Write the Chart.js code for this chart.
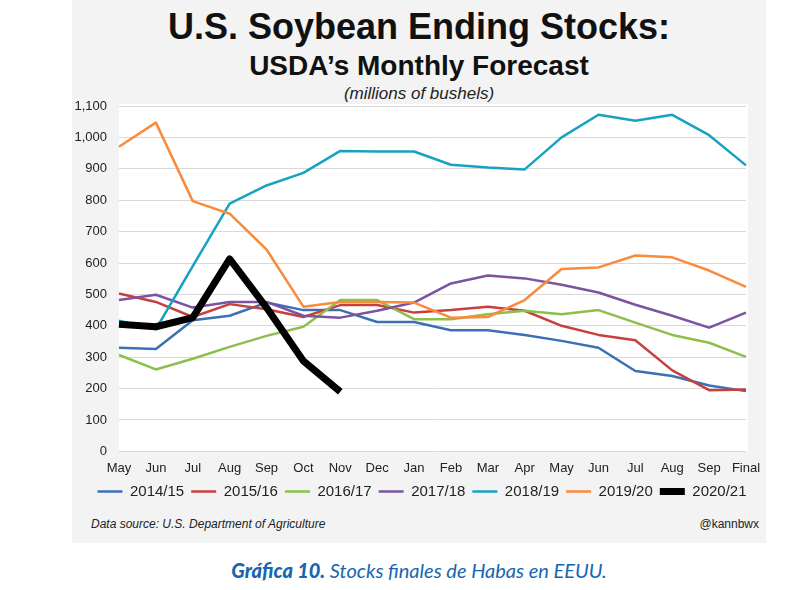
<!DOCTYPE html>
<html>
<head>
<meta charset="utf-8">
<script src="https://cdn.jsdelivr.net/npm/chart.js@4"></script>
<style>
  body { margin: 0; background: #ffffff; width: 800px; height: 590px; position: relative; overflow: hidden; }
  .panel { position: absolute; left: 72px; top: 0; width: 694px; height: 543px; background: #f3f3f3; }
  .t1, .t2, .t3 { position: absolute; left: 0; width: 694px; text-align: center; color: #111; white-space: nowrap; }
  .t1 { top: 6px; font: bold 36px "Liberation Sans Narrow", "Arial Narrow", "Liberation Sans", Arial, sans-serif; }
  .t2 { top: 50px; font: bold 28px "Liberation Sans Narrow", "Arial Narrow", "Liberation Sans", Arial, sans-serif; }
  .t3 { top: 84px; font: italic 17px "Liberation Sans", Arial, sans-serif; color: #222; }
  .plotbg { position: absolute; left: 47px; top: 104px; width: 629px; height: 347px; background: #ffffff; }
  .chart-box { position: absolute; left: 0; top: 95px; width: 694px; height: 418px; }
  .source { position: absolute; left: 19px; top: 517px; font: italic 12px "Liberation Sans", Arial, sans-serif; color: #222; }
  .handle { position: absolute; right: 7px; top: 517px; font: 12px "Liberation Sans", Arial, sans-serif; color: #222; }
  .caption { position: absolute; left: 72px; width: 694px; top: 558px; text-align: center; font: italic 20px Lato, "Open Sans", sans-serif; color: #1766b1; }
  .caption b { font-weight: 900; }
</style>
</head>
<body>
<div class="panel">
  <div class="t1">U.S. Soybean Ending Stocks:</div>
  <div class="t2">USDA’s Monthly Forecast</div>
  <div class="t3">(millions of bushels)</div>
  <div class="plotbg"></div>
  <div class="chart-box"><canvas id="stocks"></canvas></div>
  <div class="source">Data source: U.S. Department of Agriculture</div>
  <div class="handle">@kannbwx</div>
</div>
<div class="caption"><b>Gráfica 10.</b> Stocks finales de Habas en EEUU.</div>

<script>
const months = ["May", "Jun", "Jul", "Aug", "Sep", "Oct", "Nov", "Dec", "Jan", "Feb", "Mar", "Apr", "May", "Jun", "Jul", "Aug", "Sep", "Final"];
const yTicks = [0, 100, 200, 300, 400, 500, 600, 700, 800, 900, 1000, 1100];

const stocks1415 = [330, 326, 418, 432, 474, 450, 450, 412, 412, 386, 386, 371, 352, 330, 256, 240, 210, 192];
const stocks1516 = [503, 476, 428, 469, 453, 428, 466, 466, 442, 450, 461, 448, 400, 371, 354, 258, 195, 197];
const stocks1617 = [307, 261, 295, 333, 368, 397, 482, 482, 421, 421, 437, 448, 437, 450, 410, 371, 346, 301];
const stocks1718 = [482, 499, 458, 476, 476, 432, 426, 448, 474, 535, 560, 551, 531, 506, 467, 432, 394, 442];
const stocks1819 = [416, 389, 590, 789, 847, 887, 957, 955, 955, 913, 904, 898, 1000, 1072, 1053, 1072, 1007, 911];
const stocks1920 = [970, 1047, 797, 757, 643, 461, 476, 476, 474, 426, 428, 482, 581, 586, 624, 618, 576, 524];
const stocks2021 = [405, 397, 426, 613, 458, 288, 190];

const seriesNames = ["2014/15", "2015/16", "2016/17", "2017/18", "2018/19", "2019/20", "2020/21"];
const seriesValues = [stocks1415, stocks1516, stocks1617, stocks1718, stocks1819, stocks1920, stocks2021];
const seriesColors = ["#3b70b4", "#c7403d", "#8dbf4c", "#7c53a1", "#17a3c0", "#f98b3c", "#000000"];
const seriesWidths = [2.5, 2.5, 2.5, 2.5, 2.5, 2.5, 7];

const datasets = seriesNames.map((name, i) => ({
    label: name,
    data: seriesValues[i],
    borderColor: seriesColors[i],
    backgroundColor: seriesColors[i],
    borderWidth: seriesWidths[i],
    pointRadius: 0,
    pointHoverRadius: 0,
    tension: 0,
    borderJoinStyle: "round",
    borderCapStyle: "butt",
    fill: false,
    // later seasons drawn on top
    order: seriesNames.length - 1 - i,
}));

// nudge the legend so it sits centred under the plot, as in the source
const legendShift = {
    id: "legendShift",
    afterLayout(chart) {
        chart.legend.left += 13;
        chart.legend.right += 13;
    },
};

Chart.defaults.font.family = '"Liberation Sans", Arial, sans-serif';
Chart.defaults.color = "#222";

new Chart(document.getElementById("stocks"), {
    type: "line",
    data: { labels: months, datasets: datasets },
    options: {
        responsive: true,
        maintainAspectRatio: false,
        animation: false,
        layout: { padding: { top: 11, right: 20, bottom: 4, left: 0 } },
        scales: {
            x: {
                offset: false,
                grid: { display: false },
                border: { display: false },
                ticks: { font: { size: 13 }, color: "#222", padding: 1, maxRotation: 0, autoSkip: false },
            },
            y: {
                min: 0,
                max: 1100,
                afterBuildTicks: (scale) => { scale.ticks = yTicks.map((v) => ({ value: v })); },
                afterFit: (scale) => { scale.width = 47; },
                grid: { color: "#d9d9d9", lineWidth: 1, drawTicks: true, tickLength: 12, tickColor: "rgba(0,0,0,0)" },
                border: { display: false },
                ticks: { font: { size: 13 }, color: "#222", padding: 0, callback: (v) => v.toLocaleString("en-US") },
            },
        },
        plugins: {
            legend: {
                position: "bottom",
                labels: {
                    usePointStyle: true,
                    pointStyle: "line",
                    pointStyleWidth: 25,
                    font: { size: 15 },
                    color: "#222",
                    padding: 7,
                    sort: (a, b) => a.datasetIndex - b.datasetIndex,
                },
            },
            tooltip: { enabled: false },
        },
    },
    plugins: [legendShift],
});
</script>
</body>
</html>
